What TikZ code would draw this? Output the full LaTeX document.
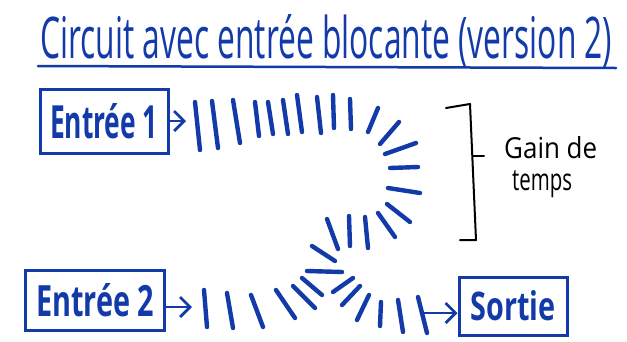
\documentclass[tikz,border=0pt]{standalone}
\usepackage{fontspec}
\setmainfont{Open Sans}
\usetikzlibrary{arrows.meta}
\definecolor{ink}{RGB}{18,58,168}
\newcommand{\hw}[3]{\resizebox{#1pt}{#2pt}{#3}}
\begin{document}
\begin{tikzpicture}[x=1pt,y=-1pt,
  box/.style={draw=ink, text=ink, line width=3pt, inner sep=0pt},
  arr/.style={draw=ink, line width=2.8pt, line cap=round, line join=round, -{Straight Barb[length=10pt,width=20pt]}},
  inkstroke/.style={draw=ink, line width=4.4pt, line cap=round},
  blk/.style={draw=black, line width=2pt, line cap=round, line join=round}]
\useasboundingbox (0,0) rectangle (627,341);
% title
\node[anchor=base west, text=ink, inner sep=0pt] (title) at (40,58) {\hw{572}{44}{Circuit avec entrée blocante (version 2)}};
\draw[ink, line width=2.5pt, line cap=round] (38,66) -- (616,68);
% boxes
\node[box, minimum width=128pt, minimum height=64pt] (e1) at (104,121) {\hw{108}{35}{\bfseries Entrée 1}};
\node[box, minimum width=139pt, minimum height=60pt] (e2) at (95,300) {\hw{118}{33}{\bfseries Entrée 2}};
\node[box, minimum width=108pt, minimum height=58pt] (so) at (513,306) {\hw{85}{30}{\bfseries Sortie}};
% arrows
\coordinate (a1) at (186,121);
\coordinate (a2) at (192,307);
\coordinate (s0) at (424,313);
\draw[arr] (e1.east) -- (a1);
\draw[arr] (e2.east |- a2) -- (a2);
\draw[arr] (s0) -- (so.west |- s0);
% strokes
\foreach \xa/\ya/\xb/\yb in {
195/102/200/150, 212/101/218/148, 233/100/240/143, 255/102/259/136,
268/102/273/134, 283/100/288/134, 297/95/302/132, 317/97/321/133,
333/95/334/128, 350/99/351/129, 378/108/368/132, 399/122/380/144,
416/143/385/154, 418/167/390/168, 420/193/388/188, 410/222/387/204,
395/237/378/213, 368/248/365/217, 350/246/349/216, 338/249/327/219,
335/261/312/246, 342/272/307/271, 322/295/302/278, 315/308/293/286,
204/290/207/327, 227/293/233/328, 251/295/263/327, 276/290/295/318,
333/292/353/278, 342/305/360/286, 357/320/369/295, 381/302/380/326,
398/300/403/332, 418/297/427/333}
  \draw[inkstroke] (\xa,\ya) -- (\xb,\yb);
% bracket
\draw[blk] (446,108) -- (470,104) -- (476,240) -- (460,240);
\draw[blk] (473,156) -- (484,156);
\node[anchor=base west, inner sep=0pt] (gain) at (504,158) {\hw{93}{22}{Gain de}};
\node[anchor=base west, inner sep=0pt] (temps) at (512,190) {\hw{60}{20}{temps}};
\end{tikzpicture}
\end{document}
